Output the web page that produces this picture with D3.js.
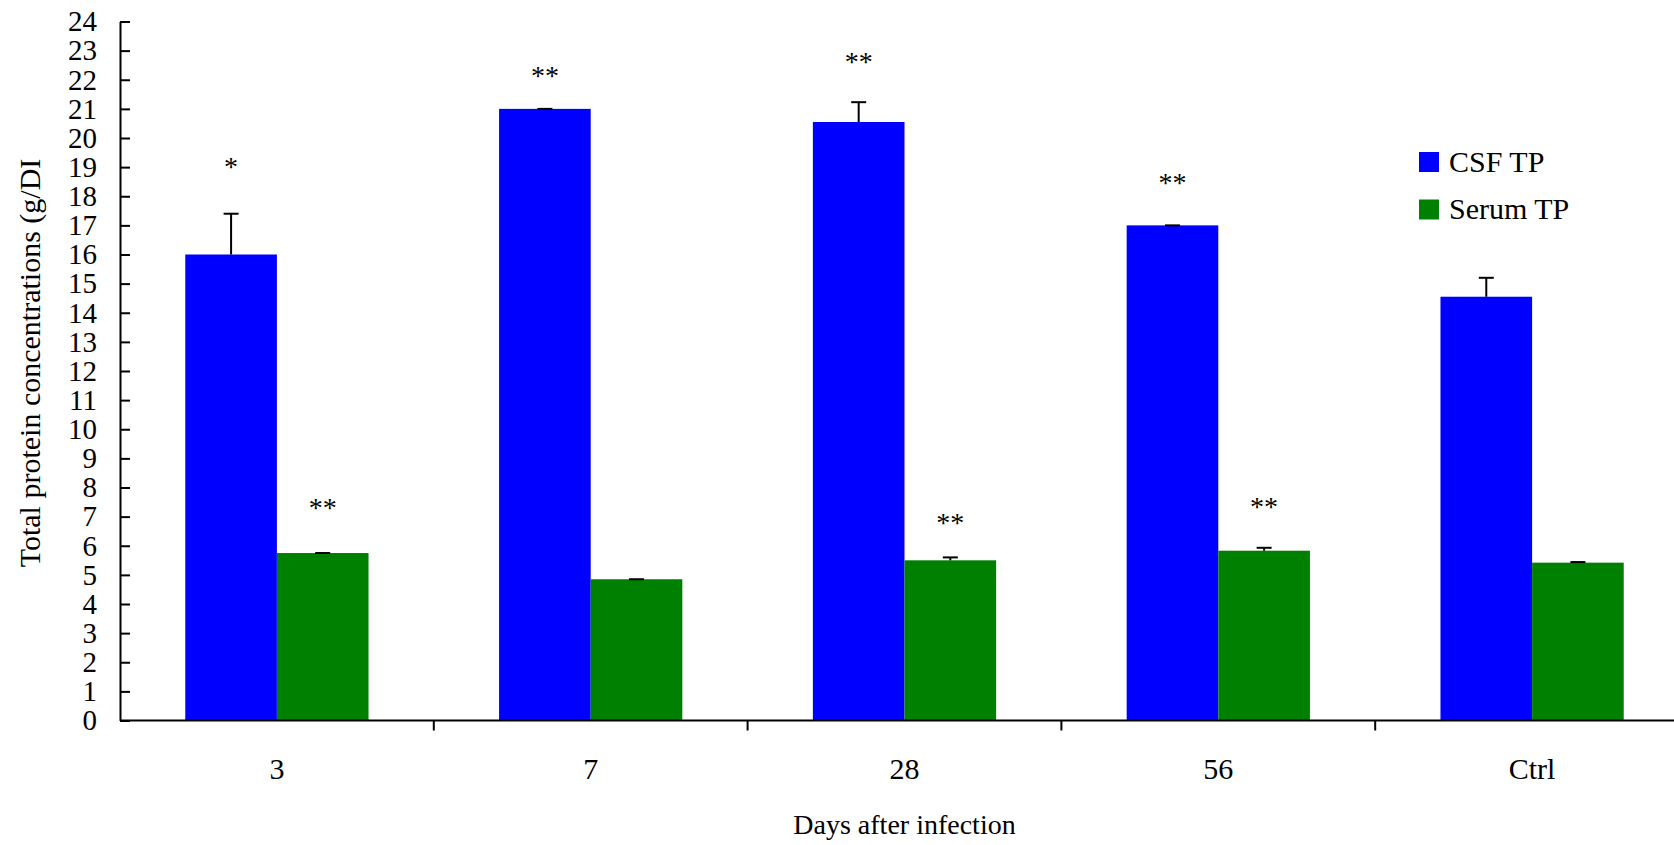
<!DOCTYPE html>
<html>
<head>
<meta charset="utf-8">
<script src="https://cdn.jsdelivr.net/npm/d3@7"></script>
<style>
  html, body { margin: 0; padding: 0; background: #fff; }
  svg { display: block; font-family: "Liberation Serif", "Times New Roman", serif; }
</style>
</head>
<body>
<svg id="chart" width="1674" height="845"></svg>
<script>
// ---- data ----
const categories = ["3", "7", "28", "56", "Ctrl"];
const seriesNames = ["CSF TP", "Serum TP"];
const csfValues = [16.0, 21.0, 20.55, 17.0, 14.55];
const csfErrors = [1.4, 0.0, 0.68, 0.0, 0.65];
const serumValues = [5.75, 4.85, 5.5, 5.83, 5.42];
const serumErrors = [0.0, 0.0, 0.1, 0.1, 0.02];
const csfSig = ["*", "**", "**", "**", ""];
const csfSigLevel = [19.07, 22.2, 22.68, 18.53, null];
const serumSig = ["**", "", "**", "**", ""];
const serumSigLevel = [7.37, null, 6.86, 7.4, null];
const yTicks = d3.range(0, 25, 1);
const yTitle = "Total protein concentrations (g/DI";
const xTitle = "Days after infection";
const colors = ["#0000ff", "#008000"];

// ---- layout ----
const svg = d3.select("#chart");
const mLeft = 120, mRight = 1689, mTop = 21.5, mBottom = 720.5;

const x0 = d3.scaleBand().domain(categories).range([mLeft, mRight]).padding(0);
const bw = x0.bandwidth();
const x1 = d3.scaleBand().domain(seriesNames).range([bw * 0.208, bw * 0.792]).padding(0);
const y = d3.scaleLinear().domain([0, 24]).range([mBottom, mTop]);

const series = [
  { name: seriesNames[0], values: csfValues, errors: csfErrors, sig: csfSig, sigLevel: csfSigLevel, color: colors[0] },
  { name: seriesNames[1], values: serumValues, errors: serumErrors, sig: serumSig, sigLevel: serumSigLevel, color: colors[1] }
];

series.forEach(s => {
  const g = svg.append("g");
  const cx = c => x0(c) + x1(s.name) + x1.bandwidth() / 2;
  g.selectAll("rect").data(categories).join("rect")
    .attr("x", c => x0(c) + x1(s.name))
    .attr("width", x1.bandwidth())
    .attr("y", (c, i) => y(s.values[i]))
    .attr("height", (c, i) => y(0) - y(s.values[i]))
    .attr("fill", s.color);

  // error bars (upper only)
  const eb = g.selectAll("g.err").data(categories).join("g").attr("class", "err")
    .attr("stroke", "#000").attr("stroke-width", 2);
  eb.append("line")
    .attr("x1", cx).attr("x2", cx)
    .attr("y1", (c, i) => y(s.values[i]))
    .attr("y2", (c, i) => y(s.values[i] + s.errors[i]));
  eb.append("line")
    .attr("x1", c => cx(c) - 7.5)
    .attr("x2", c => cx(c) + 7.5)
    .attr("y1", (c, i) => y(s.values[i] + s.errors[i]))
    .attr("y2", (c, i) => y(s.values[i] + s.errors[i]));

  // significance marks
  const idx = categories.map((c, i) => i).filter(i => s.sig[i]);
  g.selectAll("text.sig").data(idx).join("text").attr("class", "sig")
    .attr("x", i => cx(categories[i]))
    .attr("y", i => y(s.sigLevel[i]) + 11)
    .attr("text-anchor", "middle")
    .attr("font-size", 28)
    .attr("fill", "#000")
    .text(i => s.sig[i]);
});

// y axis
const yAxis = d3.axisLeft(y).tickValues(yTicks).tickSizeInner(-10).tickSizeOuter(0).tickPadding(23);
const yg = svg.append("g").attr("transform", `translate(${mLeft},0)`).call(yAxis);
yg.select(".domain").attr("stroke", "#000").attr("stroke-width", 2);
yg.selectAll(".tick line").attr("stroke", "#000").attr("stroke-width", 2);
yg.selectAll(".tick text").attr("font-size", 29).attr("font-family", "Liberation Serif").attr("fill", "#000");

// x axis
const xg = svg.append("g").attr("transform", `translate(0,${mBottom})`);
xg.append("line").attr("x1", mLeft).attr("x2", mRight).attr("stroke", "#000").attr("stroke-width", 2);
xg.selectAll("line.tk").data(categories).join("line").attr("class", "tk")
  .attr("x1", c => x0(c) + bw)
  .attr("x2", c => x0(c) + bw)
  .attr("y1", 0).attr("y2", 10)
  .attr("stroke", "#000").attr("stroke-width", 2);
xg.selectAll("text").data(categories).join("text")
  .attr("x", c => x0(c) + bw / 2)
  .attr("y", 58.5)
  .attr("text-anchor", "middle")
  .attr("font-size", 30)
  .attr("fill", "#000")
  .text(c => c);

// axis titles
svg.append("text")
  .attr("transform", `translate(40,363) rotate(-90)`)
  .attr("text-anchor", "middle")
  .attr("font-size", 30)
  .attr("fill", "#000")
  .text(yTitle);
svg.append("text")
  .attr("x", (mLeft + mRight) / 2)
  .attr("y", 834)
  .attr("text-anchor", "middle")
  .attr("font-size", 28)
  .attr("fill", "#000")
  .text(xTitle);

// legend
const lg = svg.append("g").attr("transform", "translate(1419,152)");
const li = lg.selectAll("g").data(series).join("g").attr("transform", (d, i) => `translate(0,${i * 47.5})`);
li.append("rect").attr("width", 20).attr("height", 20).attr("fill", d => d.color);
li.append("text").attr("x", 30).attr("y", 19.5).attr("font-size", 30).attr("fill", "#000").text(d => d.name);
</script>
</body>
</html>
